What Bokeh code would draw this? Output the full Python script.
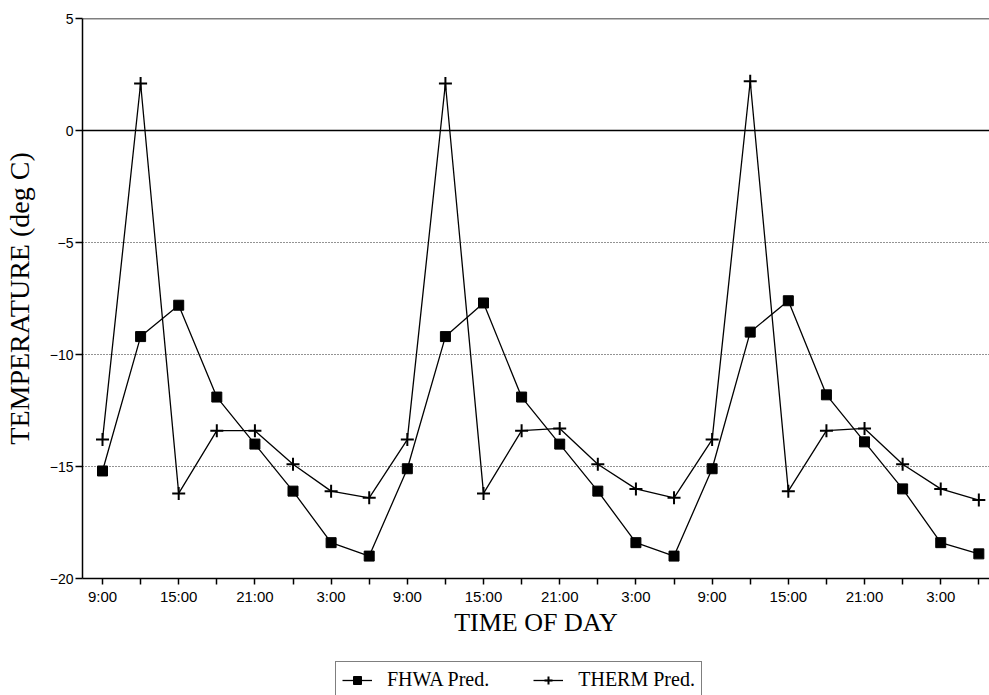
from bokeh.plotting import figure
from bokeh.models import FixedTicker, Span, Legend, LegendItem, ColumnDataSource, Range1d
from bokeh.layouts import column
from bokeh.embed import file_html
from bokeh.resources import INLINE

# ---- data ----
time_labels = ["9:00", "12:00", "15:00", "18:00", "21:00", "0:00", "3:00", "6:00"] * 3
fhwa = [-15.2, -9.2, -7.8, -11.9, -14.0, -16.1, -18.4, -19.0,
        -15.1, -9.2, -7.7, -11.9, -14.0, -16.1, -18.4, -19.0,
        -15.1, -9.0, -7.6, -11.8, -13.9, -16.0, -18.4, -18.9]
therm = [-13.8, 2.1, -16.2, -13.4, -13.4, -14.9, -16.1, -16.4,
         -13.8, 2.1, -16.2, -13.4, -13.3, -14.9, -16.0, -16.4,
         -13.8, 2.2, -16.1, -13.4, -13.3, -14.9, -16.0, -16.5]
y_ticks = [-20, -15, -10, -5, 0, 5]

idx = list(range(len(time_labels)))
src = ColumnDataSource(dict(x=idx, fhwa=fhwa, therm=therm))

SERIF = "Liberation Serif"
SANS = "Liberation Sans"

p = figure(width=989, height=660, output_backend="svg", toolbar_location=None,
           x_range=(-0.525, 23.28), y_range=(-20, 5),
           min_border_left=82, min_border_right=0, min_border_top=18, min_border_bottom=82)
p.outline_line_color = None
p.background_fill_color = "white"
p.border_fill_color = "white"

# grid
p.xgrid.visible = False
p.ygrid.ticker = FixedTicker(ticks=[-15, -10, -5])
p.ygrid.grid_line_color = "black"
p.ygrid.grid_line_dash = "1 2"
p.ygrid.grid_line_width = 1
p.ygrid.grid_line_alpha = 0.85
for yv in (0, 5):
    p.add_layout(Span(location=yv, dimension="width", line_color="black", line_width=1.3))

# axes
p.xaxis.ticker = FixedTicker(ticks=idx)
p.xaxis.major_label_overrides = {i: (time_labels[i] if i % 2 == 0 else "") for i in idx}
p.yaxis.ticker = FixedTicker(ticks=y_ticks)
for ax in (p.xaxis[0], p.yaxis[0]):
    ax.axis_line_color = "black"
    ax.axis_line_width = 1.5
    ax.major_tick_line_color = "black"
    ax.major_tick_line_width = 1.5
    ax.major_tick_in = 0
    ax.minor_tick_line_color = None
    ax.major_label_text_font = SANS
    ax.major_label_text_color = "black"
    ax.axis_label_text_font = SERIF
    ax.axis_label_text_font_style = "normal"
    ax.axis_label_text_color = "black"
p.xaxis.major_label_text_font_size = "15px"
p.yaxis.major_label_text_font_size = "14px"
p.xaxis.major_tick_out = 6
p.yaxis.major_tick_out = 7
p.xaxis.axis_label = "TIME OF DAY"
p.xaxis.axis_label_text_font_size = "26px"
p.xaxis.major_label_standoff = 3
p.xaxis.axis_label_standoff = 0
p.yaxis.axis_label = "TEMPERATURE (deg C)"
p.yaxis.axis_label_text_font_size = "28px"
p.yaxis.major_label_standoff = 2
p.yaxis.axis_label_standoff = 12

# series
p.line("x", "fhwa", source=src, line_color="black", line_width=1.3)
p.scatter("x", "fhwa", source=src, marker="square", size=10,
          fill_color="black", line_color="black")
p.line("x", "therm", source=src, line_color="black", line_width=1.3)
p.scatter("x", "therm", source=src, marker="cross", size=13,
          line_color="black", line_width=2)

# legend strip below the chart (series drawn off-range, only their legend shows)
q = figure(width=989, height=35, output_backend="svg", toolbar_location=None,
           x_range=Range1d(-0.525, 23.28), y_range=Range1d(1000, 1001),
           x_axis_location=None, y_axis_location=None,
           min_border=0, min_border_left=0, min_border_right=0,
           min_border_top=0, min_border_bottom=0)
q.outline_line_color = None
q.xgrid.visible = False
q.ygrid.visible = False
ql1 = q.line("x", "fhwa", source=src, line_color="black", line_width=1.3)
qs1 = q.scatter("x", "fhwa", source=src, marker="square", size=10,
                fill_color="black", line_color="black")
ql2 = q.line("x", "therm", source=src, line_color="black", line_width=1.3)
qs2 = q.scatter("x", "therm", source=src, marker="cross", size=13,
                line_color="black", line_width=2)

legend = Legend(items=[LegendItem(label="FHWA Pred.", renderers=[ql1, qs1]),
                       LegendItem(label="THERM Pred.", renderers=[ql2, qs2])],
                orientation="horizontal", location=(253, -3),
                border_line_color="black", border_line_width=1.2,
                label_text_font=SERIF, label_text_font_size="20px",
                label_text_color="black", glyph_width=30, glyph_height=20,
                label_height=20, label_standoff=15, spacing=44, padding=6, margin=0,
                background_fill_alpha=1.0)
q.add_layout(legend, "center")

open("out.html", "w").write(file_html(column(p, q, spacing=0), INLINE))
